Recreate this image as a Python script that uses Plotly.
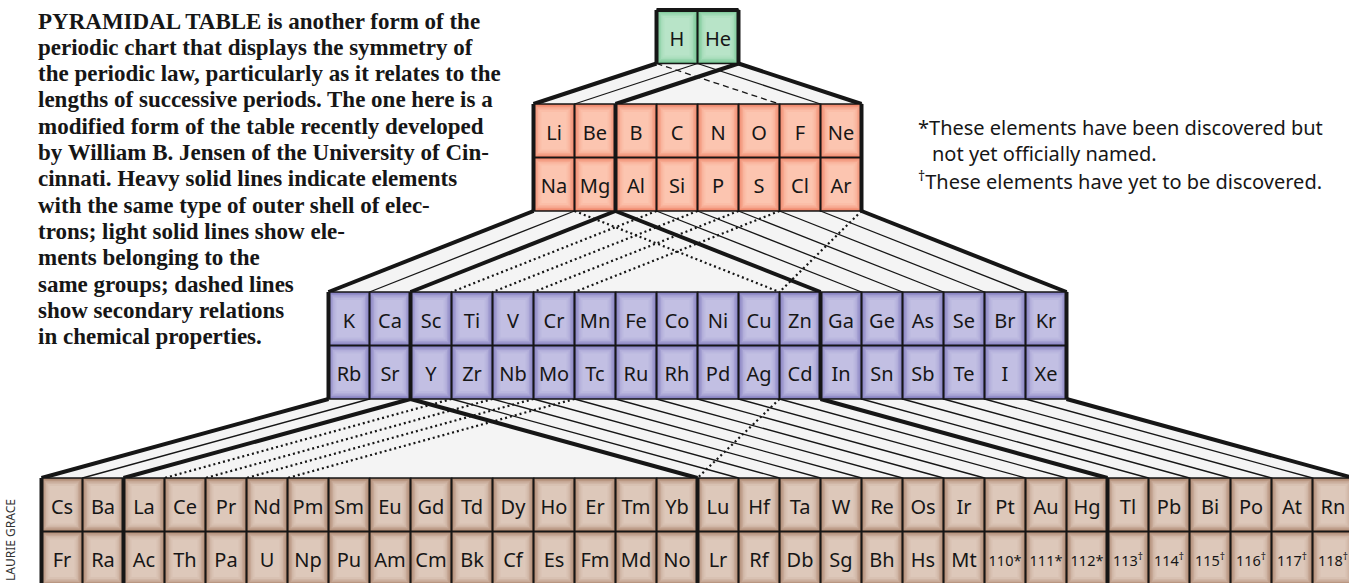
import plotly.graph_objects as go

# ---- data: element symbols, tier by tier (upper / lower sub-row) ----
tier1_top = ["H", "He"]
tier2_top = ["Li", "Be", "B", "C", "N", "O", "F", "Ne"]
tier2_bot = ["Na", "Mg", "Al", "Si", "P", "S", "Cl", "Ar"]
tier3_top = ["K", "Ca", "Sc", "Ti", "V", "Cr", "Mn", "Fe", "Co", "Ni", "Cu", "Zn",
             "Ga", "Ge", "As", "Se", "Br", "Kr"]
tier3_bot = ["Rb", "Sr", "Y", "Zr", "Nb", "Mo", "Tc", "Ru", "Rh", "Pd", "Ag", "Cd",
             "In", "Sn", "Sb", "Te", "I", "Xe"]
tier4_top = ["Cs", "Ba", "La", "Ce", "Pr", "Nd", "Pm", "Sm", "Eu", "Gd", "Td", "Dy",
             "Ho", "Er", "Tm", "Yb", "Lu", "Hf", "Ta", "W", "Re", "Os", "Ir", "Pt",
             "Au", "Hg", "Tl", "Pb", "Bi", "Po", "At", "Rn"]
tier4_bot = ["Fr", "Ra", "Ac", "Th", "Pa", "U", "Np", "Pu", "Am", "Cm", "Bk", "Cf",
             "Es", "Fm", "Md", "No", "Lr", "Rf", "Db", "Sg", "Bh", "Hs", "Mt",
             "110*", "111*", "112*", "113†", "114†", "115†", "116†", "117†", "118†"]

tiers = [[tier1_top], [tier2_top, tier2_bot], [tier3_top, tier3_bot], [tier4_top, tier4_bot]]

# column edges where the outer-shell type (s/p/d/f block) changes
block_edges = [[], [2], [2, 12], [2, 16, 26]]

# relations between tiers: (edge in upper tier, edge in lower tier, kind)
# shell = same outer shell type, group = same group, second = secondary relation
links_12 = [(0, 0, "shell"), (1, 1, "group"), (2, 2, "shell"), (1, 7, "group"),
            (2, 8, "shell"), (0, 6, "second_dash")]
links_23 = [(0, 0, "shell"), (1, 1, "group"), (2, 2, "shell"), (2, 12, "shell"),
            (3, 13, "group"), (4, 14, "group"), (5, 15, "group"), (6, 16, "group"),
            (7, 17, "group"), (8, 18, "shell"),
            (3, 3, "second"), (4, 4, "second"), (5, 5, "second"), (6, 6, "second"),
            (1, 11, "second"), (8, 11, "second")]
links_34 = [(0, 0, "shell"), (1, 1, "group"), (2, 2, "shell"), (2, 16, "shell"),
            (3, 17, "group"), (4, 18, "group"), (5, 19, "group"), (6, 20, "group"),
            (7, 21, "group"), (8, 22, "group"), (9, 23, "group"), (10, 24, "group"),
            (11, 25, "group"), (12, 26, "shell"),
            (13, 27, "group"), (14, 28, "group"), (15, 29, "group"), (16, 30, "group"),
            (17, 31, "group"), (18, 32, "shell"),
            (3, 3, "second"), (4, 4, "second"), (5, 5, "second"), (6, 6, "second"),
            (11, 16, "second")]
links = [links_12, links_23, links_34]

caption = [
    "PYRAMIDAL TABLE is another form of the",
    "periodic chart that displays the symmetry of",
    "the periodic law, particularly as it relates to the",
    "lengths of successive periods. The one here is a",
    "modified form of the table recently developed",
    "by William B. Jensen of the University of Cin-",
    "cinnati. Heavy solid lines indicate elements",
    "with the same type of outer shell of elec-",
    "trons; light solid lines show ele-",
    "ments belonging to the",
    "same groups; dashed lines",
    "show secondary relations",
    "in chemical properties.",
]

footnotes = [
    "*These elements have been discovered but",
    "not yet officially named.",
    "<sup>†</sup>These elements have yet to be discovered.",
]

# ---- geometry / style ----
CELL_W = 41
CELL_H = 53.5
MID_X = 697.5
TIER_TOP = [10, 104, 292, 478]
edge_colors = ["#6fc28e", "#ef8265", "#807bbe", "#a9826a"]
centre_colors = ["#b8e4c8", "#fcc5b0", "#c2bfe3", "#ddc8ba"]
INSETS = [0, 1.5, 3, 4.5, 6, 8]
MIX = [0, 0.3, 0.55, 0.75, 0.9, 1]
INK = "#161616"
W, H = 1349, 583


def mix(c1, c2, f):
    a = [int(c1[i:i + 2], 16) for i in (1, 3, 5)]
    b = [int(c2[i:i + 2], 16) for i in (1, 3, 5)]
    return "rgb({},{},{})".format(*[round(p + (q - p) * f) for p, q in zip(a, b)])


def col_edge(t, i):
    n = len(tiers[t][0])
    return MID_X - n * CELL_W / 2 + i * CELL_W


def tier_bottom(t):
    return TIER_TOP[t] + len(tiers[t]) * CELL_H


fig = go.Figure()

# light grey fans between tiers
gx, gy = [], []
for g in range(3):
    yu, yl = tier_bottom(g), TIER_TOP[g + 1]
    nu, nl = len(tiers[g][0]), len(tiers[g + 1][0])
    gx += [col_edge(g, 0), col_edge(g, nu), col_edge(g + 1, nl), col_edge(g + 1, 0), col_edge(g, 0), None]
    gy += [yu, yu, yl, yl, yu, None]
fig.add_trace(go.Scatter(x=gx, y=gy, mode="lines", fill="toself", fillcolor="#f4f4f4",
                         line=dict(width=0), hoverinfo="skip"))

# relation lines
styles = {
    "group": dict(color=INK, width=1.3),
    "second": dict(color=INK, width=2.2, dash="2px,3px"),
    "second_dash": dict(color=INK, width=1.3, dash="6px,4px"),
    "shell": dict(color=INK, width=4),
}
for kind in ["group", "second", "second_dash", "shell"]:
    lx, ly = [], []
    for g in range(3):
        for a, b, k in links[g]:
            if k != kind:
                continue
            lx += [col_edge(g, a), col_edge(g + 1, b), None]
            ly += [tier_bottom(g), TIER_TOP[g + 1], None]
    fig.add_trace(go.Scatter(x=lx, y=ly, mode="lines", line=styles[kind], hoverinfo="skip"))

# cells with soft inner shading (darker rim, pale centre)
for t, rows in enumerate(tiers):
    for inset, f in zip(INSETS, MIX):
        cx, cy = [], []
        for r, row in enumerate(rows):
            for i, _ in enumerate(row):
                x0 = col_edge(t, i) + inset
                x1 = col_edge(t, i + 1) - inset
                y0 = TIER_TOP[t] + r * CELL_H + inset
                y1 = y0 + CELL_H - 2 * inset
                cx += [x0, x1, x1, x0, x0, None]
                cy += [y0, y0, y1, y1, y0, None]
        fig.add_trace(go.Scatter(x=cx, y=cy, mode="lines", fill="toself",
                                 fillcolor=mix(edge_colors[t], centre_colors[t], f),
                                 line=dict(width=0), hoverinfo="skip"))

# thin cell borders
bx, by = [], []
for t, rows in enumerate(tiers):
    for r, row in enumerate(rows):
        for i, _ in enumerate(row):
            x0, x1 = col_edge(t, i), col_edge(t, i + 1)
            y0 = TIER_TOP[t] + r * CELL_H
            y1 = y0 + CELL_H
            bx += [x0, x1, x1, x0, x0, None]
            by += [y0, y0, y1, y1, y0, None]
fig.add_trace(go.Scatter(x=bx, y=by, mode="lines", line=dict(color=INK, width=1.6),
                         hoverinfo="skip"))

# heavy block outlines
hx, hy = [], []
for t, rows in enumerate(tiers):
    n = len(rows[0])
    y0, y1 = TIER_TOP[t], tier_bottom(t)
    for e in [0, n] + block_edges[t]:
        hx += [col_edge(t, e), col_edge(t, e), None]
        hy += [y0, y1, None]
    if t == 0:
        hx += [col_edge(t, 0), col_edge(t, n), None]
        hy += [y0, y0, None]
fig.add_trace(go.Scatter(x=hx, y=hy, mode="lines", line=dict(color=INK, width=4),
                         hoverinfo="skip"))

# element symbols
sx, sy, st = [], [], []
nx, ny, nt = [], [], []
for t, rows in enumerate(tiers):
    for r, row in enumerate(rows):
        for i, sym in enumerate(row):
            xc = (col_edge(t, i) + col_edge(t, i + 1)) / 2
            yc = TIER_TOP[t] + r * CELL_H + CELL_H / 2 + 4
            if sym[0].isdigit():
                nx.append(xc)
                ny.append(yc)
                nt.append(sym[:3] + "<sup>†</sup>" if sym.endswith("†") else sym)
            else:
                sx.append(xc)
                sy.append(yc)
                st.append(sym)
fig.add_trace(go.Scatter(x=sx, y=sy, text=st, mode="text", textposition="middle center",
                         textfont=dict(family="Noto Sans", size=20, color=INK), hoverinfo="skip"))
fig.add_trace(go.Scatter(x=nx, y=ny, text=nt, mode="text", textposition="middle center",
                         textfont=dict(family="Noto Sans", size=14.5, color=INK), hoverinfo="skip"))

# caption paragraph
for k, line in enumerate(caption):
    fig.add_annotation(x=36, y=21 + k * 26.3, text=line, showarrow=False,
                       xanchor="left", yanchor="middle",
                       font=dict(family="Liberation Serif", size=23, weight="bold", color=INK))

# footnotes
for k, (fx, note) in enumerate(zip([916, 930, 916], footnotes)):
    fig.add_annotation(x=fx, y=127 + k * 26.5, text=note, showarrow=False,
                       xanchor="left", yanchor="middle",
                       font=dict(family="Noto Sans", size=20, color=INK))

fig.add_annotation(x=10, y=540, text="LAURIE GRACE", textangle=-90, showarrow=False,
                   xanchor="center", yanchor="middle",
                   font=dict(family="Noto Sans", size=12, color="#333333"))

fig.update_layout(
    width=W, height=H,
    margin=dict(l=0, r=0, t=0, b=0),
    paper_bgcolor="white", plot_bgcolor="white",
    showlegend=False,
    hovermode=False,
    xaxis=dict(range=[0, W], visible=False, fixedrange=True),
    yaxis=dict(range=[H, 0], visible=False, fixedrange=True),
)

# drop the browser's default body margin so the figure fills the window exactly
fig.write_html("out.html", config={"displayModeBar": False},
               post_script="document.body.style.margin='0';document.body.style.overflow='hidden';")
